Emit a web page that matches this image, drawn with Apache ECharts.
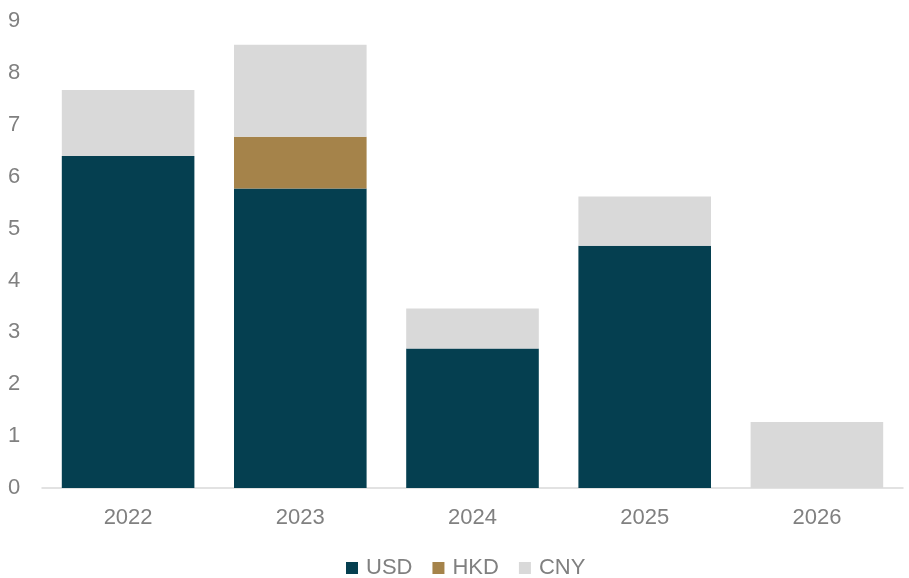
<!DOCTYPE html>
<html>
<head>
    <meta charset="utf-8">
    <title>chart</title>
    <script src="https://cdn.jsdelivr.net/npm/echarts@6/dist/echarts.min.js"></script>
    <style>
        html, body { margin: 0; padding: 0; background: #fff; }
    </style>
</head>
<body>
    <div id="main" style="width: 909px;height:578px;"></div>
    <script type="text/javascript">
        var years = ['2022', '2023', '2024', '2025', '2026'];
        var usd = [6.40, 5.77, 2.69, 4.67, 0];
        var hkd = [0, 1.00, 0, 0, 0];
        var cny = [1.27, 1.77, 0.77, 0.95, 1.27];

        var myChart = echarts.init(document.getElementById('main'));

        var labelColor = '#808080';
        var font = 'Liberation Sans, Arial, sans-serif';

        var option = {
            animation: false,
            textStyle: { fontFamily: font },
            legend: {
                top: 552,
                left: 341,
                itemWidth: 12,
                itemHeight: 12,
                itemGap: 20,
                icon: 'rect',
                textStyle: { color: labelColor, fontSize: 22, fontFamily: font, padding: [0, 0, 0, 3] },
                data: ['USD', 'HKD', 'CNY']
            },
            grid: { left: 42, right: 6, top: 21, bottom: 90 },
            xAxis: {
                type: 'category',
                data: years,
                axisLine: { lineStyle: { color: '#d9d9d9', width: 1.5 } },
                axisTick: { show: false },
                axisLabel: { color: labelColor, fontSize: 22, margin: 19, fontFamily: font }
            },
            yAxis: {
                type: 'value',
                min: 0,
                max: 9,
                interval: 1,
                splitLine: { show: false },
                axisLine: { show: false },
                axisTick: { show: false },
                axisLabel: { color: labelColor, fontSize: 22, align: 'left', margin: 34, fontFamily: font }
            },
            series: [
                { name: 'USD', type: 'bar', stack: 'a', data: usd, barWidth: '77%', itemStyle: { color: '#053f50' } },
                { name: 'HKD', type: 'bar', stack: 'a', data: hkd, itemStyle: { color: '#a5834a' } },
                { name: 'CNY', type: 'bar', stack: 'a', data: cny, itemStyle: { color: '#d9d9d9' } }
            ]
        };

        myChart.setOption(option);
    </script>
</body>
</html>
